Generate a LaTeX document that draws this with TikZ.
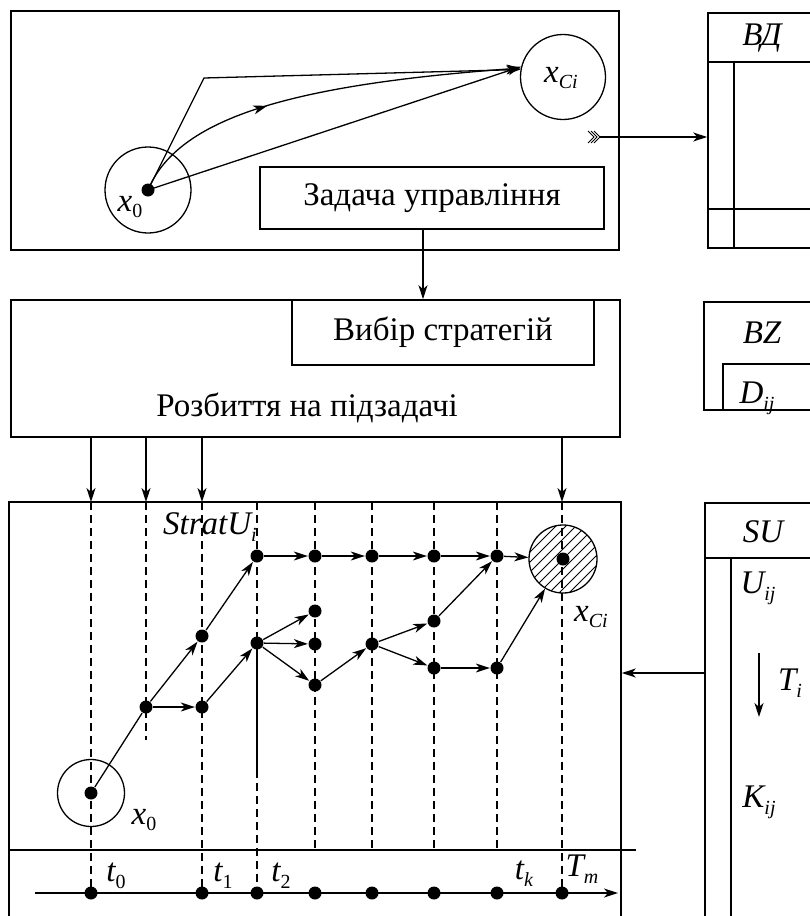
\documentclass[tikz,border=0pt]{standalone}
\usepackage{fontspec}
\setmainfont{Liberation Serif}
\usetikzlibrary{arrows.meta,decorations.markings,calc}
\newcommand\lbl[2]{#1\raisebox{-0.45ex}{\fontsize{20}{20}\selectfont #2}}
\begin{document}
\begin{tikzpicture}[x=1pt,y=-1pt,
  line width=1.3pt,
  arr/.style={-{Stealth[length=14pt,width=9pt,inset=4pt]}},
  dot/.style={circle,fill=black,inner sep=0pt,minimum size=13pt},
  box/.style={draw,line width=1.6pt,inner sep=0pt},
  ring/.style={draw,circle,inner sep=0pt,line width=1.3pt},
  vdash/.style={dash pattern=on 8pt off 5pt,line width=1.3pt},
  txt/.style={font=\fontsize{33}{38}\selectfont},
  itl/.style={font=\fontsize{33}{38}\selectfont\itshape},
  ]
\useasboundingbox (0,0) rectangle (810,916);

% ---------- top-left panel
\node[box,minimum width=608pt,minimum height=239pt] (tp) at (315,130.5) {};
\node[ring,minimum size=86pt] (x0c) at (148,190) {};
\node[dot] (x0d) at (148,190) {};
\node[itl] (x0l) at (130,207) {\lbl{x}{\upshape 0}};
\node[ring,minimum size=85pt] (xc) at (563,77) {};
\node[itl] (xcl) at (561,78) {\lbl{x}{Ci}};
\coordinate (brk) at (204,78);
\draw[arr] (x0d.center) -- (xc.166);
\draw[arr] (x0d.center) -- (brk) -- (xc.170);
\draw[arr,postaction={decorate},decoration={markings,mark=at position 0.37 with {\arrow{Stealth[length=14pt,width=9pt,inset=4pt]}}}]
  (x0d.center) .. controls (178,118) and (290,85) .. (xc.168);
\node[box,txt,minimum width=344pt,minimum height=62pt] (zad) at (432,198) {Задача управління};
\coordinate (tl) at (600,137);
\foreach \i in {0,1,2}
  \draw[line width=1pt] (588+3*\i,131) -- (594+3*\i,137) -- (588+3*\i,143);

% ---------- VD panel
\node[box,minimum width=122pt,minimum height=235pt] (vd) at (769,130.5) {};
\draw (708,62) -- (830,62);
\draw (734,62) -- (734,248);
\draw (708,209) -- (830,209);
\node[itl] (vdl) at (762,38) {ВД};
\draw[arr] (tl) -- (vd.west |- tl);

% ---------- middle panel
\node[box,minimum width=609pt,minimum height=137pt] (mid) at (315.5,368.5) {};
\node[box,txt,minimum width=302pt,minimum height=65pt] (vyb) at (443,332.5) {Вибір стратегій};
\node[txt] (rozb) at (307,408) {Розбиття на підзадачі};
\draw[arr] ([xshift=-9pt]zad.south) -- ([xshift=-9pt]zad.south |- mid.north);

% ---------- BZ panel
\node[box,minimum width=126pt,minimum height=108pt] (bz) at (767,356) {};
\node[box,minimum width=107pt,minimum height=46pt] (dbox) at (776.5,387) {};
\node[itl] (bzl) at (762,333) {BZ};
\node[itl] (dl) at (757,398) {\lbl{D}{ij}};

% ---------- bottom panel
\node[box,minimum width=612pt,minimum height=428pt] (bp) at (315,716) {};
\foreach \x/\n in {91/a,146/b,202/c,562/d}{
  \coordinate (top\n) at (\x,502);
  \draw[arr] (mid.south -| top\n) -- (top\n);
}
% dashed time lines
\draw[vdash] (91,502) -- (91,893);
\draw[vdash] (146,502) -- (146,740);
\draw[vdash] (202,502) -- (202,893);
\draw[vdash] (257,502) -- (257,643);
\draw (257,643) -- (257,770);
\draw[vdash] (257,770) -- (257,893);
\foreach \x in {315,372,434,497} \draw[vdash] (\x,502) -- (\x,850);
\draw[vdash] (562,502) -- (562,893);
\draw (9,850) -- (636,850);

% time axis
\coordinate (ax0) at (35,893);
\coordinate (ax1) at (618,893);
\draw[arr] (ax0) -- (ax1);
\foreach \x/\n in {91/0,202/1,257/2,315/3,372/4,434/5,497/6,562/7}
  \node[dot] (ax\n d) at (\x,893) {};
\node[itl] (t0) at (116,876) {\lbl{t}{\upshape 0}};
\node[itl] (t1) at (223,876) {\lbl{t}{\upshape 1}};
\node[itl] (t2) at (281,876) {\lbl{t}{\upshape 2}};
\node[itl] (tk) at (524,874) {\lbl{t}{k}};
\node[itl] (tm) at (582,869) {\lbl{T}{m}};

% start state
\node[ring,minimum size=67pt] (bx0) at (91,793) {};
\node[dot] (g0) at (91,793) {};
\node[itl] (bx0l) at (144,820) {\lbl{x}{\upshape 0}};

% target state (hatched)
\begin{scope}
  \clip (563,559) circle[radius=34pt];
  \foreach \k in {-70,-60,...,70}
    \draw[line width=1pt] (563+\k-50,609) -- ++(100,-100);
\end{scope}
\node[ring,minimum size=68pt] (xcb) at (563,559) {};
\node[dot] (xcd) at (563,559) {};
\node[itl] (xcbl) at (591,617) {\lbl{x}{Ci}};

% graph nodes
\node[dot] (a1) at (146,707) {};
\node[dot] (b1) at (202,636) {};
\node[dot] (b2) at (202,707) {};
\node[dot] (c1) at (257,556) {};
\node[dot] (c2) at (257,643) {};
\node[dot] (d1) at (315,556) {};
\node[dot] (d2) at (315,611) {};
\node[dot] (d3) at (315,644) {};
\node[dot] (d4) at (315,685) {};
\node[dot] (e1) at (372,556) {};
\node[dot] (e2) at (372,644) {};
\node[dot] (f1) at (434,556) {};
\node[dot] (f2) at (434,621) {};
\node[dot] (f3) at (434,668) {};
\node[dot] (h1) at (497,556) {};
\node[dot] (h2) at (497,668) {};

\draw (g0) -- (a1);
\draw[arr] (a1) -- (b1);
\draw[arr] (a1) -- (b2);
\draw[arr] (b1) -- (c1);
\draw[arr] (b2) -- (c2);
\draw[arr] (c2) -- (d2);
\draw[arr] (c2) -- (d3);
\draw[arr] (c2) -- (d4);
\draw[arr] (d4) -- (e2);
\draw[arr] (e2) -- (f2);
\draw[arr] (e2) -- (f3);
\draw[arr] (f2) -- (h1);
\draw[arr] (f3) -- (h2);
\draw[arr] (h2) -- (xcb);
\draw[arr] (c1) -- (d1);
\draw[arr] (d1) -- (e1);
\draw[arr] (e1) -- (f1);
\draw[arr] (f1) -- (h1);
\draw[arr] (h1) -- (xcb);

\node[itl] (strat) at (210,527) {\lbl{StratU}{i}};

% ---------- SU panel
\node[box,minimum width=125pt,minimum height=427pt] (su) at (767.5,716.5) {};
\draw (705,558) -- (830,558);
\draw (731,558) -- (731,930);
\node[itl] (sul) at (763,532) {SU};
\node[itl] (ul) at (758,588) {\lbl{U}{ij}};
\coordinate (ta) at (759,653);
\coordinate (tb) at (759,717);
\draw[arr] (ta) -- (tb);
\node[itl] (til) at (790,683) {\lbl{T}{i}};
\node[itl] (kl) at (759,802) {\lbl{K}{ij}};
\coordinate (sua) at (705,673);
\draw[arr] (sua) -- (bp.east |- sua);
\end{tikzpicture}
\end{document}
